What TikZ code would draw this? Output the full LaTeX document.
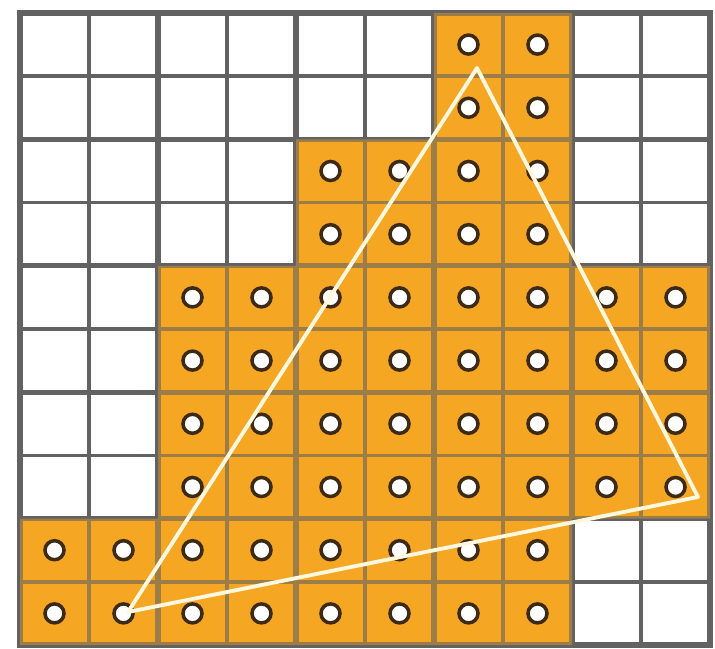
\documentclass[tikz,border=0pt]{standalone}
\definecolor{cellorange}{RGB}{245,166,35}
\definecolor{gridgray}{RGB}{98,98,98}
\definecolor{dotrim}{RGB}{60,42,20}
\definecolor{triline}{RGB}{255,247,222}
\tikzset{
  gridthick/.style={gridgray, line width=1.45pt, line cap=rect},
  gridthin/.style={gridgray, line width=1.0pt, line cap=rect},
  sample/.style={circle, draw=dotrim, fill=white, line width=1.0pt, minimum size=0.19cm, inner sep=0pt},
  triedge/.style={triline, line width=1.1pt, line join=round, line cap=round}
}
\begin{document}
\begin{tikzpicture}[x=0.01cm,y=-0.01cm]
\useasboundingbox (0,0) rectangle (715,649);
\fill[white] (0,0) rectangle (715,649);
\def\orangeregion{(20+6*69,13) -- (20+8*69,13) -- (20+8*69,13+4*63.2) -- (20+10*69,13+4*63.2) -- (20+10*69,13+8*63.2) -- (20+8*69,13+8*63.2) -- (20+8*69,13+10*63.2) -- (20,13+10*63.2) -- (20,13+8*63.2) -- (20+2*69,13+8*63.2) -- (20+2*69,13+4*63.2) -- (20+4*69,13+4*63.2) -- (20+4*69,13+2*63.2) -- (20+6*69,13+2*63.2) -- cycle}
\fill[cellorange] \orangeregion;
% grid
\foreach \i in {0,...,10}{
  \pgfmathtruncatemacro{\myparity}{mod(\i,2)}
  \ifnum\myparity=0
    \draw[gridthick] (20+\i*69,13) -- (20+\i*69,645);
    \draw[gridthick] (20,13+\i*63.2) -- (710,13+\i*63.2);
  \else
    \draw[gridthin] (20+\i*69,13) -- (20+\i*69,645);
    \draw[gridthin] (20,13+\i*63.2) -- (710,13+\i*63.2);
  \fi
}
\fill[cellorange, opacity=0.4] \orangeregion;
% sample dots
\foreach \r/\a/\b in {0/6/7,1/6/7,2/4/7,3/4/7,4/2/9,5/2/9,6/2/9,7/2/9,8/0/7,9/0/7}{
  \foreach \c in {\a,...,\b}{
    \node[sample] (d-\r-\c) at (20+\c*69+34.5, 13+\r*63.2+31.6) {};
  }
}
% triangle
\coordinate (ta) at (477,68);
\coordinate (tb) at (128,612);
\coordinate (tc) at (698,497);
\draw[triedge] (ta) -- (tb) -- (tc) -- cycle;
\end{tikzpicture}
\end{document}
